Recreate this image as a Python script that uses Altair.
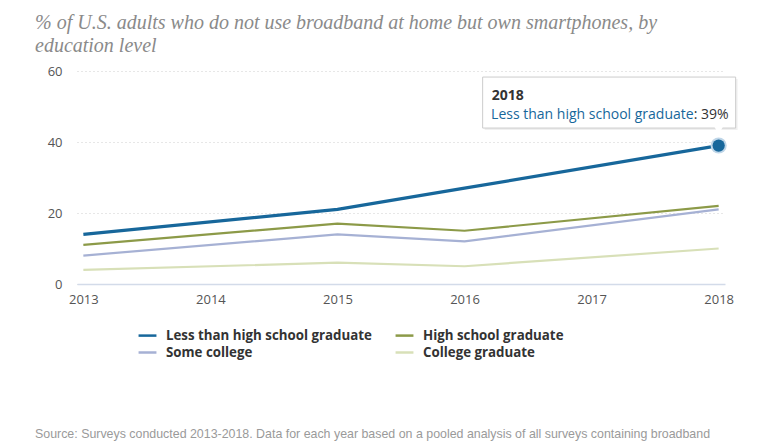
import altair as alt
import pandas as pd

years = [2013, 2015, 2016, 2018]
less_than_hs = [14, 21, 27, 39]
high_school = [11, 17, 15, 22]
some_college = [8, 14, 12, 21]
college_grad = [4, 6, 5, 10]

series_names = ["Less than high school graduate", "Some college",
                "High school graduate", "College graduate"]
series_values = [less_than_hs, some_college, high_school, college_grad]
colors = ["#17679b", "#a6b1d4", "#8c9a48", "#d8e0b8"]

rows = []
for name, vals in zip(series_names, series_values):
    for y, v in zip(years, vals):
        rows.append({"year": y, "value": v, "series": name})
df = pd.DataFrame(rows)

hl = pd.DataFrame({"year": [2018], "value": [39], "series": ["Less than high school graduate"]})

x_enc = alt.X("year:Q", scale=alt.Scale(domain=[2012.95, 2018.05], nice=False, zero=False),
              axis=alt.Axis(values=[2013, 2014, 2015, 2016, 2017, 2018], format="d", title=None,
                            grid=False, ticks=False, domain=True, domainColor="#d3dbe9",
                            domainWidth=1.5, labelPadding=9, labelFontSize=13,
                            labelColor="#555", labelFont="Open Sans"))
y_enc = alt.Y("value:Q", scale=alt.Scale(domain=[0, 60], nice=False),
              axis=alt.Axis(values=[0, 20, 40, 60], title=None, ticks=False, domain=False,
                            grid=True, gridColor="#cfcfcf", gridDash=[1, 3], gridWidth=1,
                            labelPadding=15, labelFontSize=13, labelColor="#555",
                            labelFont="Open Sans"))

lines = alt.Chart(df).mark_line().encode(
    x=x_enc, y=y_enc,
    color=alt.Color("series:N", scale=alt.Scale(domain=series_names, range=colors),
                    sort=series_names,
                    legend=alt.Legend(title=None, orient="none", legendX=60, legendY=254,
                                      columns=2, columnPadding=18, rowPadding=-2,
                                      symbolType="stroke", symbolSize=320,
                                      symbolStrokeWidth=2.5, labelFontSize=13.3,
                                      labelFont="Open Sans", labelFontWeight="bold",
                                      labelColor="#333", labelOffset=8, labelLimit=400)),
    strokeWidth=alt.condition(alt.datum.series == "Less than high school graduate",
                              alt.value(3.2), alt.value(2.2)),
)

box = alt.Chart(hl).mark_rect(width=253, height=51, fill="white", stroke="#cccccc",
                              strokeWidth=1, xOffset=-109.5, yOffset=-43).encode(
    x="year:Q", y="value:Q")
shadow = alt.Chart(hl).mark_rect(width=253, height=51, fill="#000000", opacity=0.06,
                                 xOffset=-107.5, yOffset=-41).encode(x="year:Q", y="value:Q")
pointer = alt.Chart(hl).mark_point(shape="triangle-down", filled=True, fill="white",
                                   size=90, opacity=1, yOffset=-15.5).encode(
    x="year:Q", y="value:Q")
halo = alt.Chart(hl).mark_point(filled=True, size=260, color="#bfd6e8", opacity=1).encode(
    x="year:Q", y="value:Q")
dot = alt.Chart(hl).mark_point(filled=True, size=150, color="#17679b", opacity=1).encode(
    x="year:Q", y="value:Q")

t_year = alt.Chart(hl).mark_text(align="left", baseline="middle", dx=-227, dy=-50,
                                 fontSize=14, fontWeight="bold", font="Open Sans",
                                 color="#333").encode(
    x="year:Q", y="value:Q", text=alt.Text("year:Q", format="d"))
t_name = alt.Chart(hl).mark_text(align="right", baseline="middle", dx=-25, dy=-31,
                                 fontSize=14, font="Open Sans", color="#17679b").encode(
    x="year:Q", y="value:Q", text="series:N")
t_val = alt.Chart(hl).mark_text(align="left", baseline="middle", dx=-25, dy=-31,
                                fontSize=14, font="Open Sans", color="#333").encode(
    x="year:Q", y="value:Q", text=alt.Text("label:N")).transform_calculate(
    label="': ' + datum.value + '%'")

source = alt.Chart(hl).mark_text(align="left", baseline="middle", fontSize=12.4,
                                 font="Liberation Sans", color="#9a9a9a").encode(
    x=alt.value(-42), y=alt.value(363),
    text=alt.value("Source: Surveys conducted 2013-2018. Data for each year based on a pooled analysis of all surveys containing broadband"))

chart = alt.layer(lines, shadow, box, pointer, halo, dot, t_year, t_name, t_val, source).properties(
    width=648, height=213,
    title=alt.TitleParams(
        text=["% of U.S. adults who do not use broadband at home but own smartphones, by",
              "education level"],
        anchor="start", frame="group", dx=-42, offset=9, fontSize=20,
        font="Liberation Serif", fontStyle="italic", fontWeight="normal",
        color="#8a8a8a", lineHeight=23),
    autosize=alt.AutoSizeParams(type="none"),
    padding={"left": 77, "top": 71, "right": 43, "bottom": 163},
).configure_view(stroke=None)

chart.save("out.html", embed_options={"renderer": "svg", "actions": False})
